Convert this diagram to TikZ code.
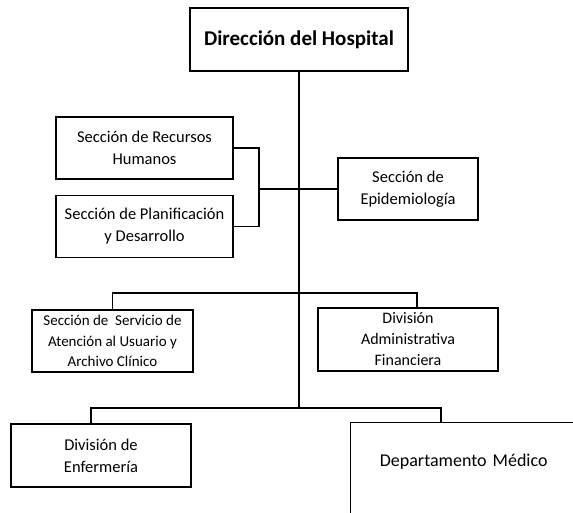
\documentclass[tikz,border=0pt]{standalone}
\usepackage{fontspec}
\setmainfont{Carlito}
\usetikzlibrary{positioning}

\begin{document}
\begin{tikzpicture}[x=1pt, y=-1pt, line width=1.4pt,
	unit/.style={draw, align=center, minimum height=62pt, inner sep=2pt, font=\fontsize{16.5}{22}\selectfont}]
	\clip (0,0) rectangle (573,512);
	\node[unit, minimum width=218pt, minimum height=63pt, font=\bfseries\fontsize{21}{24}\selectfont] (dir) at (299,39.5) {Dirección del Hospital};
	\node[unit, minimum width=177pt] (rrhh) at (144.5,148) {Sección de Recursos\\Humanos};
	\node[unit, minimum width=177pt, below=15pt of rrhh] (plan) {Sección de Planificación\\y Desarrollo};
	\node[unit, minimum width=140pt] (epi) at (408,189) {Sección de\\Epidemiología};
	\node[unit, minimum width=161pt, inner sep=1pt, font=\fontsize{15}{20.5}\selectfont] (serv) at (112.5,341) {Sección de \ Servicio de\\Atención al Usuario y\\Archivo Clínico};
	\node[unit, minimum width=180pt, minimum height=63pt, font=\fontsize{16}{21}\selectfont] (adm) at (408,339.5) {División\\Administrativa\\Financiera};
	\node[unit, minimum width=180pt, minimum height=63pt] (enf) at (101,455.5) {División de\\Enfermería};
	\node[draw, anchor=north west, inner sep=0pt, text width=226pt, align=center, text height=44pt, text depth=70pt, font=\fontsize{18}{22}\selectfont] (med) at (350,422) {Departamento Médico};

	\coordinate (j1) at (259,189);
	\coordinate (b2) at (299,293);
	\coordinate (b3) at (299,408);

	\draw (dir) -- (b3);
	\draw (rrhh.east) -| (j1) |- (plan.east);
	\draw (j1) -- (epi.west);
	\draw (serv) |- (b2) -| ([xshift=9pt]adm.north);
	\draw ([xshift=-10pt]enf.north) |- (b3) -| ([xshift=91pt]med.north west);
\end{tikzpicture}
\end{document}
